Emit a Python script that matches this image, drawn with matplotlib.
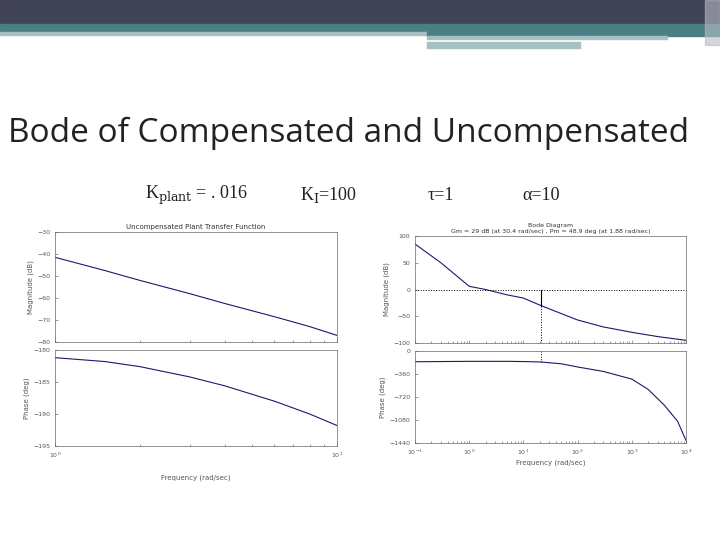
import matplotlib
matplotlib.use("Agg")
import matplotlib.pyplot as plt
from matplotlib.ticker import NullFormatter
import numpy as np

# left plot data (uncompensated)
w_left = [1.0, 1.5, 2.0, 3.0, 4.0, 6.0, 8.0, 10.0]
mag_left = [-41.5, -47.5, -52, -58, -62.5, -68.5, -73, -77]
ph_left = [-181.2, -181.8, -182.6, -184.2, -185.6, -188.0, -190.0, -191.8]
# right plot data (compensated)
w_right = [0.1, 0.3, 1.0, 2.0, 5.0, 10.0, 21.0, 50.0, 100.0, 300.0, 1000.0, 3000.0, 10000.0]
mag_right = [85, 50, 6, 0, -10, -16, -30, -45, -57, -70, -80, -88, -95]
w_ph_right = [0.06, 0.3, 1.0, 5.0, 10.0, 21.0, 50.0, 100.0, 300.0, 1000.0, 2000.0, 4000.0, 7000.0, 10000.0]
ph_right = [-170, -165, -162, -162, -165, -172, -200, -250, -320, -440, -600, -850, -1100, -1400]
w_cross = 21.0

W, H = 720, 540
fig = plt.figure(figsize=(7.2, 5.4), dpi=100)

def ax_px(x0, y0, x1, y1):
    return fig.add_axes([x0 / W, 1 - y1 / H, (x1 - x0) / W, (y1 - y0) / H])

# header bands
hdr = fig.add_axes([0, 0, 1, 1], zorder=-5)
hdr.set_xlim(0, W); hdr.set_ylim(H, 0); hdr.axis("off")
hdr.add_patch(plt.Rectangle((0, 0), W, 24, color="#404354"))
hdr.add_patch(plt.Rectangle((0, 24), W, 8, color="#4a8084"))
hdr.add_patch(plt.Rectangle((0, 32), 427, 3, color="#a6c0c3"))
hdr.add_patch(plt.Rectangle((427, 32), 293, 4, color="#4a8084"))
hdr.add_patch(plt.Rectangle((427, 36), 240, 3, color="#a6c0c3"))
hdr.add_patch(plt.Rectangle((427, 42), 153, 6, color="#a6c0c3"))
hdr.add_patch(plt.Rectangle((705, 0), 15, 45, color="#b8bcc4", alpha=0.6))

fig.text(8 / W, 1 - 133 / H, "Bode of Compensated and Uncompensated", fontsize=24,
         family="Open Sans", color="#222222", va="center", ha="left")
sub = dict(fontsize=13, family="Liberation Serif", color="#222222", va="center")
fig.text(145 / W, 1 - 195 / H, r"K$_{\rm plant}$ = . 016", math_fontfamily="dejavuserif", **sub)
fig.text(300 / W, 1 - 195 / H, r"K$_{\rm I}$=100", math_fontfamily="dejavuserif", **sub)
fig.text(428 / W, 1 - 195 / H, "τ=1", **sub)
fig.text(522 / W, 1 - 195 / H, "α=10", **sub)

line_kw = dict(color="#1a1a6e", lw=0.8)
tick_kw = dict(labelsize=4.5, colors="#555555", length=2, width=0.4)

def style(ax):
    for s in ax.spines.values():
        s.set_linewidth(0.5); s.set_color("#666666")
    ax.tick_params(which="both", direction="in", **tick_kw)
    ax.tick_params(which="minor", length=1.5)
    ax.xaxis.set_minor_formatter(NullFormatter())

# left magnitude
a1 = ax_px(55, 232, 337, 342)
a1.semilogx(w_left, mag_left, **line_kw)
a1.set_xlim(1, 10); a1.set_ylim(-80, -30)
a1.set_yticks([-30, -40, -50, -60, -70, -80])
a1.set_ylabel("Magnitude (dB)", fontsize=5, color="#555555", labelpad=2)
a1.set_title("Uncompensated Plant Transfer Function", fontsize=5, color="#333333", pad=2)
style(a1); a1.tick_params(which="both", labelbottom=False)
# left phase
a2 = ax_px(55, 350, 337, 446)
a2.semilogx(w_left, ph_left, **line_kw)
a2.set_xlim(1, 10); a2.set_ylim(-195, -180)
a2.set_yticks([-180, -185, -190, -195])
a2.set_ylabel("Phase (deg)", fontsize=5, color="#555555", labelpad=2)
a2.set_xlabel("Frequency (rad/sec)", fontsize=5, color="#555555", labelpad=10)
style(a2)

# right magnitude
b1 = ax_px(415, 236, 686, 343)
b1.semilogx(w_right, mag_right, **line_kw)
b1.axhline(0, color="black", ls=":", lw=0.7)
b1.plot([w_cross, w_cross], [0, -30], color="black", lw=0.8)
b1.plot([w_cross, w_cross], [-30, -100], color="black", ls=":", lw=0.7)
b1.set_xlim(0.1, 1e4); b1.set_ylim(-100, 100)
b1.set_yticks([100, 50, 0, -50, -100])
b1.set_ylabel("Magnitude (dB)", fontsize=5, color="#555555", labelpad=2)
b1.set_title("Bode Diagram\nGm = 29 dB (at 30.4 rad/sec) , Pm = 48.9 deg (at 1.88 rad/sec)",
             fontsize=4.5, color="#333333", pad=2)
style(b1); b1.tick_params(which="both", labelbottom=False)
# right phase
b2 = ax_px(415, 351, 686, 443)
b2.semilogx(w_ph_right, ph_right, **line_kw)
b2.plot([w_cross, w_cross], [0, -172], color="black", ls=":", lw=0.7)
b2.set_xlim(0.1, 1e4); b2.set_ylim(-1440, 0)
b2.set_yticks([0, -360, -720, -1080, -1440])
b2.set_ylabel("Phase (deg)", fontsize=5, color="#555555", labelpad=2)
b2.set_xlabel("Frequency (rad/sec)", fontsize=5, color="#555555", labelpad=2)
style(b2)

fig.savefig("out.png", dpi=100)
